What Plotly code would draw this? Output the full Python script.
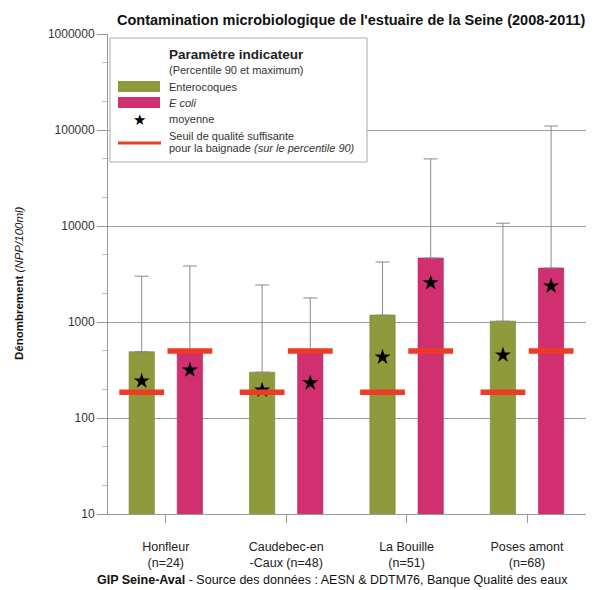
import numpy as np
import plotly.graph_objects as go

sites = ["Honfleur<br>(n=24)", "Caudebec-en<br>-Caux (n=48)", "La Bouille<br>(n=51)", "Poses amont<br>(n=68)"]
entero_p90 = [490, 300, 1180, 1020]
entero_max = [3000, 2430, 4220, 10700]
entero_mean = [243, 195, 431, 453]
ecoli_p90 = [500, 500, 4640, 3650]
ecoli_max = [3830, 1780, 50000, 110000]
ecoli_mean = [316, 232, 2560, 2370]
seuil_entero = [185, 185, 185, 185]
seuil_ecoli = [500, 500, 500, 500]
y_ticks = [10, 100, 1000, 10000, 100000, 1000000]

GREEN = "#8e9a3c"
PINK = "#d0306f"
RED = "#ee3b24"
FONT = "Arial, Liberation Sans, sans-serif"

# page has an 8px body margin; figure size reduced accordingly
OFF = 8
W, H = 595 - OFF, 590 - OFF
L, R, T, B = 100, 9, 26, 76
PW, PH = W - L - R, H - T - B


def px(x):
    """window pixel x -> paper"""
    return (x - OFF - L) / PW


def py(y):
    """window pixel y -> paper"""
    return (H - B - (y - OFF)) / PH


xs = np.arange(len(sites))
off = 0.2
bw = 0.21

fig = go.Figure()
fig.add_bar(x=xs - off, y=entero_p90, width=bw, marker=dict(color=GREEN, line=dict(color="#75802e", width=0.6)),
            name="Enterocoques",
            error_y=dict(type="data", symmetric=False,
                         array=[m - v for m, v in zip(entero_max, entero_p90)],
                         arrayminus=[0] * 4, color="#8a8a8a", thickness=1, width=7))
fig.add_bar(x=xs + off, y=ecoli_p90, width=bw, marker=dict(color=PINK, line=dict(color="#a8245a", width=0.6)),
            name="E coli",
            error_y=dict(type="data", symmetric=False,
                         array=[m - v for m, v in zip(ecoli_max, ecoli_p90)],
                         arrayminus=[0] * 4, color="#8a8a8a", thickness=1, width=7))
fig.add_scatter(x=np.concatenate([xs - off, xs + off]), y=entero_mean + ecoli_mean, mode="markers",
                marker=dict(symbol="star", size=12, color="black"), name="moyenne")
fig.add_scatter(x=np.concatenate([xs - off, xs + off]), y=seuil_entero + seuil_ecoli, mode="markers",
                marker=dict(symbol="line-ew-open", size=32, color=RED, line=dict(color=RED, width=5.5)),
                name="seuil")

# ---- manual legend (box, swatches, texts) ----
shapes = [
    dict(type="rect", xref="paper", yref="paper", x0=px(110), x1=px(367), y0=py(162), y1=py(38),
         fillcolor="white", line=dict(color="#aaa", width=1), layer="above"),
    dict(type="rect", xref="paper", yref="paper", x0=px(118), x1=px(160), y0=py(92), y1=py(81),
         fillcolor=GREEN, line=dict(width=0), layer="above"),
    dict(type="rect", xref="paper", yref="paper", x0=px(118), x1=px(160), y0=py(108), y1=py(97),
         fillcolor=PINK, line=dict(width=0), layer="above"),
    dict(type="line", xref="paper", yref="paper", x0=px(118), x1=px(161), y0=py(143), y1=py(143),
         line=dict(color=RED, width=3), layer="above"),
]


def txt(text, x, y, size, color="#333", **kw):
    d = dict(text=text, x=px(x), y=py(y), xref="paper", yref="paper", xanchor="left", yanchor="middle",
             showarrow=False, font=dict(size=size, color=color, family=FONT))
    d.update(kw)
    return d


annotations = [
    txt("<b>Paramètre indicateur</b>", 167, 55, 13.5, "#222"),
    txt("(Percentile 90 et maximum)", 167, 70, 11),
    txt("Enterocoques", 167, 87, 11),
    txt("<i>E coli</i>", 167, 103, 11),
    txt("★", 139, 119, 15, "black", xanchor="center"),
    txt("moyenne", 167, 119, 11),
    txt("Seuil de qualité suffisante", 167, 136, 11),
    txt("pour la baignade <i>(sur le percentile 90)</i>", 167, 148, 11),
    dict(text="<b>Contamination microbiologique de l'estuaire de la Seine (2008-2011)</b>",
         x=px(351), y=py(20), xref="paper", yref="paper", xanchor="center", yanchor="middle",
         showarrow=False, font=dict(size=14.5, color="#111")),
    dict(text="<b>Dénombrement</b> <i>(NPP/100ml)</i>", textangle=-90, x=px(19), y=py(283),
         xref="paper", yref="paper", xanchor="center", yanchor="middle",
         showarrow=False, font=dict(size=11.5, color="#111")),
    dict(text="<b>GIP Seine-Aval</b> - Source des données : AESN & DDTM76, Banque Qualité des eaux",
         x=px(95), y=py(580), xref="paper", yref="paper", xanchor="left", yanchor="middle",
         showarrow=False, font=dict(size=12.5, color="#111")),
]

fig.update_layout(
    width=W, height=H,
    margin=dict(l=L, r=R, t=T, b=B),
    paper_bgcolor="white", plot_bgcolor="white",
    font=dict(family=FONT, size=11, color="#222"),
    showlegend=False,
    shapes=shapes,
    annotations=annotations,
    xaxis=dict(range=[-0.48, 3.49], tickvals=xs, ticktext=sites, showgrid=False,
               ticks="outside", ticklen=8, tickcolor="#999", showline=True, linecolor="#999",
               tickfont=dict(size=12.5, color="#222"), zeroline=False, ticklabelstandoff=13),
    yaxis=dict(type="log", range=[1, 6], tickvals=y_ticks, ticktext=[str(v) for v in y_ticks],
               showgrid=True, gridcolor="#a0a0a0", gridwidth=1,
               ticks="outside", ticklen=10, tickcolor="#999", showline=True, linecolor="#999",
               minor=dict(ticks="outside", ticklen=5, tickcolor="#bbb", showgrid=False),
               tickfont=dict(size=12, color="#333"), zeroline=False),
)
fig.write_html("out.html")
